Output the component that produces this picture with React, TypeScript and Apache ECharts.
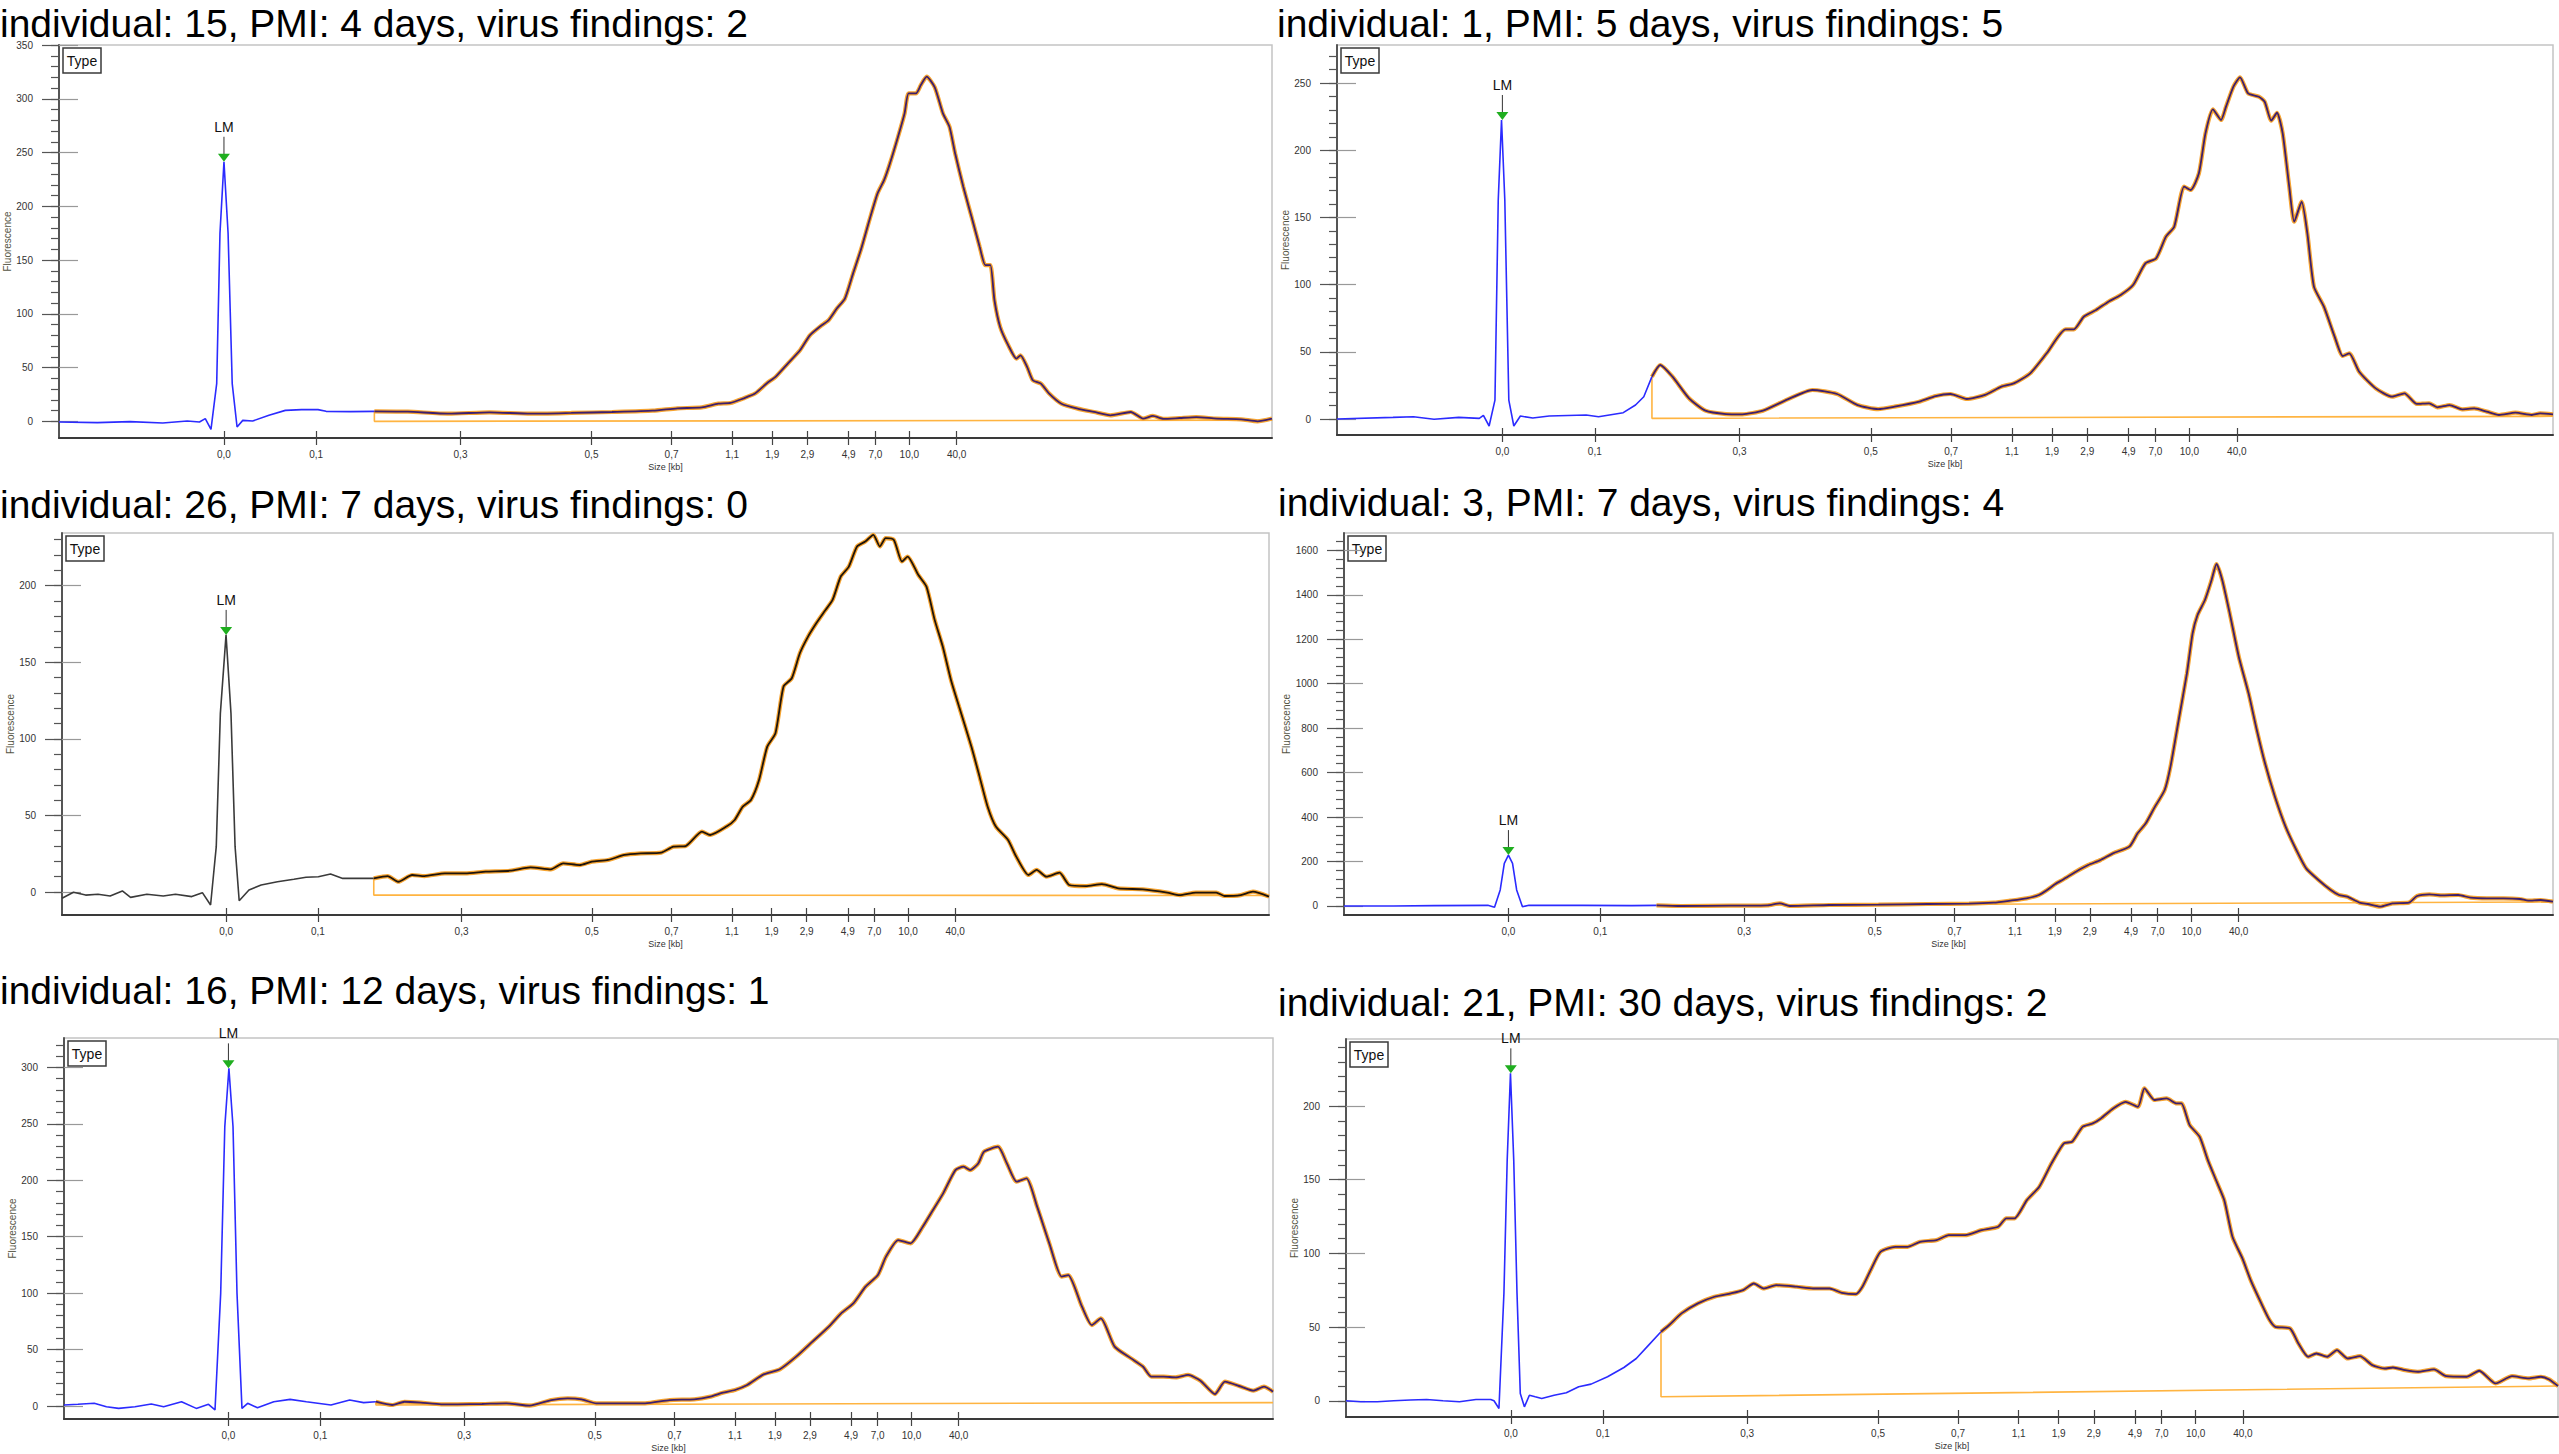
import React, { useEffect, useRef } from "react";
import * as echarts from "echarts";

const TITLES = [
  "individual: 15, PMI: 4 days, virus findings: 2",
  "individual: 1, PMI: 5 days, virus findings: 5",
  "individual: 26, PMI: 7 days, virus findings: 0",
  "individual: 3, PMI: 7 days, virus findings: 4",
  "individual: 16, PMI: 12 days, virus findings: 1",
  "individual: 21, PMI: 30 days, virus findings: 2",
];

// size ladder positions on the migration scale (0..1000) and their labels
const SIZE_TICK_POS = [136, 212, 331, 439, 505, 555, 588, 617, 651, 673, 701, 740];
const SIZE_TICK_LABELS = ["0,0", "0,1", "0,3", "0,5", "0,7", "1,1", "1,9", "2,9", "4,9", "7,0", "10,0", "40,0"];

const Y_MIN = [-15.5, -11.9, -15, -40.5, -11.5, -11];
const Y_MAX = [350, 278.3, 234.3, 1678, 326, 245.5];
const Y_STEP = [50, 50, 50, 200, 50, 50];
const Y_LABEL_TOP = [350, 250, 200, 1600, 300, 200];
const Y_MINOR_STEP = [10, 10, 10, 40, 10, 10];

const LM_POS = 136;
const LM_HEIGHT = [241.4, 222.5, 167.8, 229, 299.1, 222.2];

const P1_LEAD = [[0,-0.6],[31.7,-1.2],[58.6,-0.3],[85.5,-1.6],[105.7,0.3],[115.8,-0.6],[120.6,2.5],[125.3,-7.4],[130,35],[132.7,174.7],[136,241.4],[139.4,174.7],[142.8,35],[146.8,-5.3],[151.5,0.9],[159.6,0.3],[173.1,5.6],[186.6,10.2],[200,10.9],[213.5,10.9],[220.2,9.3],[240.4,9.0],[260,9.3]];
const P1_MAIN = [[260,9.3],[287.6,9.0],[321.3,7.1],[354.9,8.4],[388.6,7.1],[422.3,7.8],[456,8.7],[489.6,9.9],[509.8,12.1],[530,13],[543.5,16.4],[553.6,17.1],[563.7,21.1],[573.8,25.8],[583.9,35.7],[590.7,41.3],[600.8,53.7],[610.9,66.1],[619,80],[627.7,88.4],[634.4,94],[641.2,104.9],[647.9,114.2],[654.6,137.4],[661.4,160.7],[668.1,187.1],[674.8,211.9],[680.2,224.3],[685,239.8],[691.7,264.7],[697.1,286.4],[700.4,305],[706.5,305],[710.5,312.7],[715.3,320.5],[722,310.6],[728.7,286.4],[734.1,274],[738.8,249.1],[745.5,218.1],[752.3,190.2],[759,162.3],[763.7,145.2],[767.8,145.2],[771.2,112.6],[775.9,87.8],[782.6,70.7],[789.3,58.3],[792.7,61.4],[798.1,50.6],[802.8,38.2],[809.5,35.1],[816.3,25.8],[826.4,16.4],[839.8,11.8],[853.3,8.7],[866.8,5.6],[883.6,8.7],[893.7,2.5],[901.8,5],[910.6,2.2],[924,3.1],[937.5,4],[954.3,2.5],[974.5,1.9],[988,0],[1000,2.5]];
const P1_BASE = [[260,9.3],[260,0],[1000,1]];

const P2_LEAD = [[0,0],[46,1.2],[62.9,1.7],[79.8,-0.2],[100.1,1.2],[117,0.5],[120.4,2.7],[125.1,-5.2],[129.9,14.1],[132.6,162.9],[135.3,222.5],[138,162.9],[141.3,14.1],[145.4,-5.2],[150.8,2.2],[161,0.7],[174.5,2.2],[204.9,3],[215.1,1.7],[235.4,4.7],[245.5,10.4],[252.3,16.6],[259,31.5]];
const P2_MAIN = [[259,31.5],[265.8,40.2],[275.9,31.5],[289.5,15.4],[303,6.2],[319.9,3.7],[333.4,3.5],[350.3,6.2],[370.6,14.6],[390.9,21.6],[411.2,18.6],[428.1,10.4],[445,7.4],[458.5,9.2],[478.8,12.9],[492.3,17.1],[504.5,18.6],[518,14.9],[532.9,17.9],[546.4,24.1],[556.6,26.5],[570.1,34],[583.6,48.9],[599.2,66.7],[606,66.7],[614.1,76.1],[624.2,81.1],[634.4,87.3],[644.5,92.3],[654.7,99.7],[664.8,115.8],[673.6,119.5],[681.7,135.7],[688.5,143.1],[696.6,172.9],[702,170.4],[708.8,182.8],[714.2,212.5],[720.3,230.4],[727,222.5],[731.1,232.4],[737.2,247.3],[742.6,254.2],[749.3,242.3],[758.1,239.8],[762.9,236.1],[768.3,222],[773,227.9],[777.7,212.5],[783.1,172.9],[787.2,146.8],[793.3,161.7],[798,138.1],[803.4,98.5],[811.6,83.6],[820.4,61.3],[827.1,46.9],[832.5,48.9],[840.6,35.2],[854.2,22.8],[867.7,16.6],[877.8,19.1],[888,11.2],[898.1,11.7],[904.9,8.7],[915,10.4],[925.2,7.2],[935.3,7.9],[945.5,5.5],[955.6,3],[969.1,4.7],[982.6,3],[989.4,4.2],[1000,3.5]];
const P2_BASE = [[259,31.5],[259,0.5],[1000,2]];

const P3_LEAD = [[0,-4.1],[9.5,-0.2],[19.6,-2],[29.8,-1.5],[39.9,-2.6],[50,0.7],[56.8,-3.5],[70.3,-1.5],[83.9,-2.6],[94,-1.5],[107.5,-3],[116.3,-0.4],[123.1,-8.5],[127.8,29.6],[131.2,116.6],[135.9,167.8],[140,116.6],[143.4,29.6],[146.8,-5.7],[154.9,1.3],[165,4.6],[178.5,6.7],[192.1,8.3],[202.2,9.6],[212.4,10],[222.5,11.8],[232.6,8.9],[246.2,8.9],[258.3,8.9]];
const P3_MAIN = [[258.3,8.9],[269.8,10.4],[278.6,6.7],[290.1,11.1],[300.3,10.4],[317.2,12.2],[334.1,12.2],[351,13.3],[371.3,13.9],[388.2,16.1],[405.1,14.8],[415.2,18.7],[428.8,17.6],[439,19.8],[452.4,20.9],[466,24.2],[479.5,25.2],[496.4,25.7],[506.5,29.6],[516.7,30],[530.2,39.4],[537,37.2],[550.5,42.7],[557.3,47],[564,55.7],[570.8,60.1],[577.5,73.1],[584.3,94.9],[591.1,103.6],[597.8,134.1],[604.6,139.5],[611.3,155.8],[618.1,166.7],[624.9,175.4],[631.6,183],[638.4,190.6],[645.2,205.9],[651.9,212.4],[658.7,225.5],[665.5,228.7],[672.2,233.1],[677.6,225.5],[682.4,230.9],[689.2,229.8],[695.9,215.7],[700.6,218.9],[709.4,207],[716.2,199.3],[723,177.6],[729.7,160.2],[736.5,138.4],[743.2,121],[753.4,94.9],[760.2,75.3],[766.9,55.7],[773.7,42.7],[783.8,34],[790.6,23.1],[800.7,11.1],[807.5,14.4],[815.6,10],[826.4,12.6],[834.5,4.6],[848.1,3.9],[861.6,5.2],[875.1,2.4],[895.4,1.7],[915.7,-0.4],[925.9,-2],[939.4,-0.4],[956.3,-0.4],[963.1,-2.6],[976.6,-2],[986.7,0.2],[1000,-3]];
const P3_BASE = [[258.3,8.9],[258.3,-2],[1000,-2.3]];

const P4_LEAD = [[0,0],[40.8,0],[74.8,1.5],[119,3],[124.5,-6],[129.2,72],[132.6,192],[136,229],[139.4,192],[142.8,72],[147.6,-3],[153,3],[197.3,3],[238.1,1.5],[258.5,3]];
const P4_MAIN = [[258.5,3],[278.9,0],[319.7,1.5],[350.3,3],[360.5,12],[368.7,0],[401.3,4.5],[442.1,6],[482.9,9],[516.9,10.5],[537.4,15],[551,24],[564.6,34.5],[574.8,49.5],[581.6,72],[588.4,99],[595.2,120],[605.4,154.4],[615.6,184.4],[625.8,206.9],[636,236.9],[649.6,266.9],[656.4,326.9],[663.2,371.9],[670,439.4],[678.8,521.8],[683.6,626.8],[690.4,836.7],[697.2,1046.7],[701.9,1226.6],[706,1309.1],[712.1,1376.5],[717.6,1466.5],[721.7,1538.5],[726.4,1466.5],[732.6,1316.6],[740.1,1121.6],[748.2,956.7],[755,791.7],[761.8,641.8],[770,491.8],[778.8,356.9],[787.7,251.9],[795.8,169.4],[806,117],[816.2,72],[823,49.5],[829.8,42],[840,15],[846.8,9],[857,-3],[867.2,12],[880.8,15],[887.6,45],[897.8,52.5],[908,48],[921.6,49.5],[931.8,37.5],[945.4,34.5],[959,34.5],[972.7,31.5],[979.5,24],[989.7,27],[1000,19.5]];
const P4_BASE = [[258.5,3],[1000,18]];

const P5_LEAD = [[0,0.9],[11.5,1.5],[25,2.4],[35.1,-0.6],[45.2,-2.1],[58.7,-0.6],[72.2,1.8],[82.4,-0.6],[97.2,3.8],[109.4,-2.1],[119.5,1.5],[124.9,-3.5],[129.6,99.8],[133,247.4],[136.4,299.1],[139.8,247.4],[143.1,99.8],[147.2,-2.1],[151.9,2.4],[160,-1.5],[173.5,3.8],[187,5.9],[200.5,3.8],[220.8,0.9],[236.3,5.3],[247.8,3],[258,3.8]];
const P5_MAIN = [[258,3.8],[271.4,0.9],[281.6,3.8],[295.1,3],[312,1.5],[325.4,1.5],[345.7,1.8],[366,2.4],[385.2,0.3],[403.1,5.3],[416.6,6.8],[428.1,5.9],[440.2,2.4],[460.5,2.4],[480.7,2.4],[501,5.3],[521.3,5.9],[534.8,8.3],[545,11.8],[555,14.2],[565.1,18.6],[578.6,28],[592.1,32.5],[605.6,43.7],[619.1,57],[632.6,70.3],[642.8,82.1],[652.9,90.9],[663,105.7],[673.2,116],[679.9,132.3],[690,147],[700.2,144.1],[710.3,158.8],[717.1,170.7],[727.2,188.4],[737.3,209],[744.1,212],[749.5,209],[756.2,214.9],[761,225.3],[772.5,229.7],[779.9,214.9],[788,198.7],[796.1,201.7],[804.9,176.6],[815,144.1],[825.2,114.6],[830.6,116],[842,88],[850.1,71.7],[857.6,77.7],[869,52.6],[882.6,42.2],[892.6,34.8],[899.4,26],[909.5,26],[919.7,25.4],[929.8,27.5],[940,22.4],[952,10.6],[960.2,21.6],[973.7,17.1],[983.8,13.6],[992.5,17.1],[1000,12.7]];
const P5_BASE = [[258,3.8],[258,0.9],[1000,3]];

const P6_LEAD = [[0,0],[12.2,-0.7],[25.8,-0.7],[39.4,0],[53,0.5],[66.5,0.9],[80.1,0],[93.6,-0.7],[107.2,0.9],[119.4,0.9],[122.1,0],[126.2,-5.2],[130.3,72.9],[133,163.3],[135.7,222.2],[138.4,163.3],[141.1,72.9],[143.8,5],[147.2,-4.1],[151.3,3.8],[156.1,2.7],[161.5,1.6],[171.7,3.8],[181.8,5.4],[192,9.5],[202.2,11.3],[215.8,16.3],[229.3,22.6],[239.5,28.7],[249.7,37.8],[259.9,46.8]];
const P6_MAIN = [[259.9,46.8],[266.7,51.4],[276.8,59.3],[290.4,66.1],[304,70.6],[317.6,72.9],[327.7,75.1],[336.5,79.6],[344.7,76.2],[354.9,78.5],[371.8,77.4],[385.4,76.2],[399,76.2],[409.1,73.3],[420.7,72.4],[426.1,77.4],[432.9,88.7],[441,101.1],[453.2,104.5],[463.4,104.5],[473.6,107.9],[487.2,109],[497.3,112.4],[510.9,112.4],[524.5,115.8],[538.1,118.1],[544.8,123.8],[551.6,123.8],[561.8,136.2],[572,145.2],[582.1,161.1],[592.3,174.7],[599.1,175.8],[607.9,186],[616.1,188.2],[622.9,191.6],[633,198.4],[643.2,202.9],[653.4,199.5],[658.8,212],[667,204.1],[677.1,205.2],[685.3,201.8],[689.3,201.8],[696.1,187.1],[704.3,179.2],[711.1,163.3],[717.8,149.8],[724.6,136.2],[731.4,111.3],[739.6,96.6],[746.4,81.9],[755.2,66.1],[762,54.8],[766.8,50.2],[779,49.1],[785.8,38.9],[793.8,29.9],[800.6,32.1],[809.5,29.9],[817.6,34.4],[826.4,28.7],[836.6,30.3],[846.8,24.2],[857,21.9],[863.8,22.6],[873.9,20.8],[884.1,19.7],[897.7,21.3],[907.8,16.7],[924.8,16.3],[935,20.4],[948.5,11.8],[962.1,16.7],[975.7,15.2],[985.9,16.3],[992.7,14.5],[1000,10]];
const P6_BASE = [[259.9,46.8],[259.9,2.7],[1000,10]];

const LEADS = [P1_LEAD, P2_LEAD, P3_LEAD, P4_LEAD, P5_LEAD, P6_LEAD];
const MAINS = [P1_MAIN, P2_MAIN, P3_MAIN, P4_MAIN, P5_MAIN, P6_MAIN];
const BASES = [P1_BASE, P2_BASE, P3_BASE, P4_BASE, P5_BASE, P6_BASE];

// layout (pixels)
const GRIDS = [
  { left: 59, top: 45, width: 1213, height: 393 },
  { left: 1337, top: 45, width: 1216, height: 390 },
  { left: 62, top: 533, width: 1207, height: 382 },
  { left: 1344, top: 533, width: 1209, height: 382 },
  { left: 64, top: 1038, width: 1209, height: 381 },
  { left: 1346, top: 1039, width: 1212, height: 378 },
];
const TITLE_POS = [
  { x: 0, y: 8 }, { x: 1277, y: 8 },
  { x: 0, y: 489 }, { x: 1278, y: 487 },
  { x: 0, y: 975 }, { x: 1278, y: 987 },
];
const LEAD_COLORS = ["#2b2bff", "#2b2bff", "#3a3a3a", "#2b2bff", "#2b2bff", "#2b2bff"];
const CORE_COLORS = ["#3d1f6e", "#3d1f6e", "#1e140c", "#3d1f6e", "#3d1f6e", "#3d1f6e"];
const FONT = '"Liberation Sans", Arial, sans-serif';

function range(from: number, to: number, step: number) {
  const out: number[] = [];
  for (let v = from; v <= to + 1e-9; v += step) out.push(Math.round(v * 1000) / 1000);
  return out;
}

function buildOption() {
  const xAxis: any[] = [];
  const yAxis: any[] = [];
  const series: any[] = [];
  const graphic: any[] = [];

  GRIDS.forEach((g, i) => {
    const majors = range(0, Y_LABEL_TOP[i], Y_STEP[i]);
    const minors = range(0, Y_MAX[i], Y_MINOR_STEP[i]);
    xAxis.push({
      gridIndex: i, type: "value", min: 0, max: 1000, position: "bottom",
      axisLine: { show: true, onZero: false, lineStyle: { color: "#3a3a3a", width: 2 } },
      axisTick: { show: true, customValues: SIZE_TICK_POS, length: 7, lineStyle: { color: "#444", width: 1.2 } },
      axisLabel: {
        show: true, customValues: SIZE_TICK_POS, margin: 11, fontSize: 10, color: "#333", fontFamily: FONT,
        formatter: (v: number) => {
          const k = SIZE_TICK_POS.indexOf(v);
          return k >= 0 ? SIZE_TICK_LABELS[k] : "";
        },
      },
      splitLine: { show: false },
      name: "Size [kb]", nameLocation: "middle", nameGap: 24,
      nameTextStyle: { fontSize: 9, color: "#333", fontFamily: FONT },
    });
    xAxis.push({
      gridIndex: i, type: "value", min: 0, max: 1000, position: "bottom",
      axisLine: { show: false, onZero: false },
      axisTick: { show: true, inside: true, customValues: SIZE_TICK_POS, length: 7, lineStyle: { color: "#444", width: 1.2 } },
      axisLabel: { show: false },
      splitLine: { show: false },
    });
    yAxis.push({
      gridIndex: i, type: "value", min: Y_MIN[i], max: Y_MAX[i], position: "left",
      axisLine: { show: true, onZero: false, lineStyle: { color: "#555", width: 2 } },
      axisTick: { show: true, customValues: majors, length: 17, lineStyle: { color: "#555", width: 1.2 } },
      axisLabel: {
        show: true, customValues: majors, margin: 26, fontSize: 10, color: "#333", fontFamily: FONT,
        formatter: (v: number) => String(v),
      },
      splitLine: { show: false },
      name: "Fluorescence", nameLocation: "middle", nameGap: 46, nameRotate: 90,
      nameTextStyle: { fontSize: 10, color: "#554", fontFamily: FONT },
    });
    yAxis.push({
      gridIndex: i, type: "value", min: Y_MIN[i], max: Y_MAX[i], position: "left",
      axisLine: { show: false, onZero: false },
      axisTick: { show: true, customValues: minors, length: 8, lineStyle: { color: "#555", width: 1.2 } },
      axisLabel: { show: false },
      splitLine: { show: false },
    });
    yAxis.push({
      gridIndex: i, type: "value", min: Y_MIN[i], max: Y_MAX[i], position: "left",
      axisLine: { show: false, onZero: false },
      axisTick: { show: true, inside: true, customValues: majors, length: 19, lineStyle: { color: "#999", width: 1.2 } },
      axisLabel: { show: false },
      splitLine: { show: false },
    });

    const xi = 2 * i;
    const yi = 3 * i;
    series.push({
      type: "line", xAxisIndex: xi, yAxisIndex: yi, data: LEADS[i], showSymbol: false, symbol: "none",
      lineStyle: { color: LEAD_COLORS[i], width: 1.6 }, z: 3, silent: true,
    });
    series.push({
      type: "line", xAxisIndex: xi, yAxisIndex: yi, data: BASES[i], showSymbol: false, symbol: "none",
      lineStyle: { color: "#ffb441", width: 1.6 }, z: 2, silent: true,
    });
    series.push({
      type: "line", xAxisIndex: xi, yAxisIndex: yi, data: MAINS[i], showSymbol: false, symbol: "none",
      smooth: 0.2, lineStyle: { color: "#f6a431", width: 4.2 }, z: 4, silent: true,
    });
    series.push({
      type: "line", xAxisIndex: xi, yAxisIndex: yi, data: MAINS[i], showSymbol: false, symbol: "none",
      smooth: 0.2, lineStyle: { color: CORE_COLORS[i], width: 1.8 }, z: 5, silent: true,
    });
    series.push({
      type: "custom", xAxisIndex: xi, yAxisIndex: yi, data: [[LM_POS, LM_HEIGHT[i]]], clip: false, z: 6, silent: true,
      renderItem: (params: any, api: any) => {
        const p = api.coord([api.value(0), api.value(1)]);
        return {
          type: "group",
          children: [
            { type: "line", shape: { x1: p[0], y1: p[1] - 7, x2: p[0], y2: p[1] - 25 }, style: { stroke: "#333", lineWidth: 1 } },
            { type: "polygon", shape: { points: [[p[0] - 6, p[1] - 8], [p[0] + 6, p[1] - 8], [p[0], p[1]]] }, style: { fill: "#1fae1f" } },
            { type: "text", style: { text: "LM", x: p[0], y: p[1] - 35, align: "center", verticalAlign: "middle", fontSize: 14, fontFamily: FONT, fill: "#111" } },
          ],
        };
      },
    });

    graphic.push({
      type: "group", x: g.left + 4, y: g.top + 3, z: 100,
      children: [
        { type: "rect", shape: { x: 0, y: 0, width: 38, height: 25 }, style: { fill: "#fff", stroke: "#3a3a3a", lineWidth: 1.5 } },
        { type: "text", style: { text: "Type", x: 19, y: 13, align: "center", verticalAlign: "middle", fontSize: 14, fontFamily: FONT, fill: "#111" } },
      ],
    });
  });

  return {
    animation: false,
    backgroundColor: "#ffffff",
    title: TITLES.map((t, i) => ({
      text: t, left: TITLE_POS[i].x, top: TITLE_POS[i].y, padding: 0,
      textStyle: { fontSize: 39, fontWeight: "normal", fontFamily: FONT, color: "#000", lineHeight: 30 },
    })),
    grid: GRIDS.map((g) => ({ ...g, show: true, borderColor: "#c4c4c4", borderWidth: 1.5, backgroundColor: "transparent" })),
    xAxis, yAxis, series, graphic,
  };
}

export default function App() {
  const ref = useRef<HTMLDivElement>(null);
  useEffect(() => {
    document.body.style.margin = "0";
    if (!ref.current) return;
    const chart = echarts.init(ref.current, undefined, { renderer: "svg" });
    chart.setOption(buildOption() as any);
    return () => chart.dispose();
  }, []);
  return <div ref={ref} style={{ width: 2559, height: 1454, background: "#fff" }} />;
}
